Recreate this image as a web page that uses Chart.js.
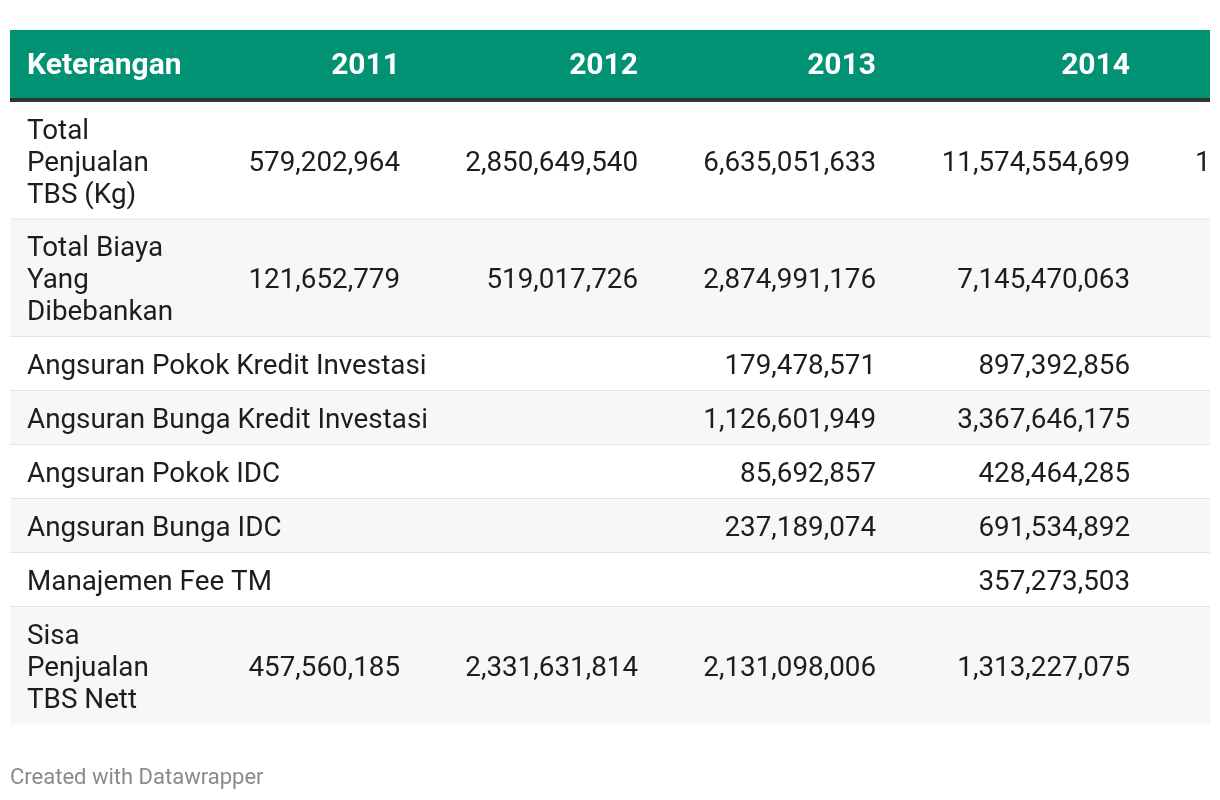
<!DOCTYPE html>
<html><head><meta charset="utf-8">
<script src="https://cdn.jsdelivr.net/npm/chart.js@4.4.0/dist/chart.umd.min.js"></script>
<style>html,body{margin:0;padding:0;background:#fff;}canvas{display:block;}</style>
</head><body>
<canvas id="c" width="1220" height="800"></canvas>
<script>
// ---- data ----
const headers = ["Keterangan", "2011", "2012", "2013", "2014"];
const rowLabels = [
  ["Total", "Penjualan", "TBS (Kg)"],
  ["Total Biaya", "Yang", "Dibebankan"],
  ["Angsuran Pokok Kredit Investasi"],
  ["Angsuran Bunga Kredit Investasi"],
  ["Angsuran Pokok IDC"],
  ["Angsuran Bunga IDC"],
  ["Manajemen Fee TM"],
  ["Sisa", "Penjualan", "TBS Nett"]
];
const v2011 = [579202964, 121652779, null, null, null, null, null, 457560185];
const v2012 = [2850649540, 519017726, null, null, null, null, null, 2331631814];
const v2013 = [6635051633, 2874991176, 179478571, 1126601949, 85692857, 237189074, null, 2131098006];
const v2014 = [11574554699, 7145470063, 897392856, 3367646175, 428464285, 691534892, 357273503, 1313227075];
// next column is cut off at the right edge; only its first glyph is visible
const nextColVisible = ["1", "", "", "", "", "", "", ""];
const footer = "Created with Datawrapper";

const columns = [v2011, v2012, v2013, v2014];
const fmt = v => v == null ? "" : v.toLocaleString("en-US");

// ---- layout ----
const BODY = 27.8, HEAD = 30;
const L = {
  left: 10, right: 1210, top: 30, headH: 68, headBorder: 4,
  lineH: 31.75, rowPad: 22.25, textX: 27,
  colRight: [400, 638, 876, 1130], nextColX: 1195,
  bodyFont: BODY + "px Roboto", headFont: "bold " + HEAD + "px Roboto",
  green: "#009273", alt: "#f7f7f7", sep: "#e5e5e5", ink: "#1d1d1d"
};

const tablePlugin = {
  id: "table",
  afterDraw(chart) {
    const ctx = chart.ctx, xs = chart.scales.x, ys = chart.scales.y;
    const X = v => xs.getPixelForValue(v), Y = v => ys.getPixelForValue(v);
    ctx.save();
    ctx.beginPath();
    ctx.rect(X(L.left), Y(0), X(L.right) - X(L.left), Y(800) - Y(0));
    ctx.clip();
    // header
    ctx.fillStyle = L.green;
    ctx.fillRect(X(L.left), Y(L.top), X(L.right) - X(L.left), Y(L.top + L.headH) - Y(L.top));
    ctx.fillStyle = "#333";
    ctx.fillRect(X(L.left), Y(L.top + L.headH), X(L.right) - X(L.left), Y(L.top + L.headH + L.headBorder) - Y(L.top + L.headH));
    ctx.font = L.headFont; ctx.fillStyle = "#fff"; ctx.textBaseline = "alphabetic";
    const hc = L.top + L.headH / 2 - 1 + 0.355 * HEAD;
    ctx.textAlign = "left"; ctx.fillText(headers[0], X(L.textX), Y(hc));
    ctx.textAlign = "right";
    for (let c = 1; c < headers.length; c++) ctx.fillText(headers[c], X(L.colRight[c - 1]), Y(hc));
    // rows
    let y = L.top + L.headH + L.headBorder;
    rowLabels.forEach((lab, r) => {
      const h = lab.length * L.lineH + L.rowPad;
      ctx.fillStyle = r % 2 ? L.alt : "#fff";
      ctx.fillRect(X(L.left), Y(y), X(L.right) - X(L.left), Y(y + h) - Y(y));
      if (r < rowLabels.length - 1) {
        ctx.fillStyle = L.sep;
        ctx.fillRect(X(L.left), Y(y + h - 1), X(L.right) - X(L.left), Y(y + h + 1) - Y(y + h - 1));
      }
      const cy = y + h / 2;
      ctx.font = L.bodyFont; ctx.fillStyle = L.ink;
      ctx.textAlign = "left";
      lab.forEach((t, i) => {
        ctx.fillText(t, X(L.textX), Y(cy + (i - (lab.length - 1) / 2) * 32 + 0.355 * BODY));
      });
      ctx.textAlign = "right";
      columns.forEach((col, c) => {
        const s = fmt(col[r]);
        if (s) ctx.fillText(s, X(L.colRight[c]), Y(cy + 0.355 * BODY));
      });
      ctx.textAlign = "left";
      if (nextColVisible[r]) ctx.fillText(nextColVisible[r], X(L.nextColX), Y(cy + 0.355 * BODY));
      y += h;
    });
    ctx.restore();
    // footer
    ctx.font = "22px Roboto"; ctx.fillStyle = "#8a8a8a"; ctx.textAlign = "left";
    ctx.fillText(footer, X(10), Y(784));
  }
};

function make() {
  new Chart(document.getElementById("c"), {
    type: "scatter",
    data: { datasets: [] },
    options: {
      responsive: false, animation: false,
      layout: { padding: 0 },
      plugins: { legend: { display: false }, tooltip: { enabled: false } },
      scales: {
        x: { type: "linear", min: 0, max: 1220, offset: false, grace: 0, display: false },
        y: { type: "linear", min: 0, max: 800, reverse: true, offset: false, grace: 0, display: false }
      }
    },
    plugins: [tablePlugin]
  });
}
(document.fonts && document.fonts.load) ? Promise.all([document.fonts.load(BODY + "px Roboto"), document.fonts.load("bold " + HEAD + "px Roboto")]).then(make, make) : make();
</script>
</body></html>
